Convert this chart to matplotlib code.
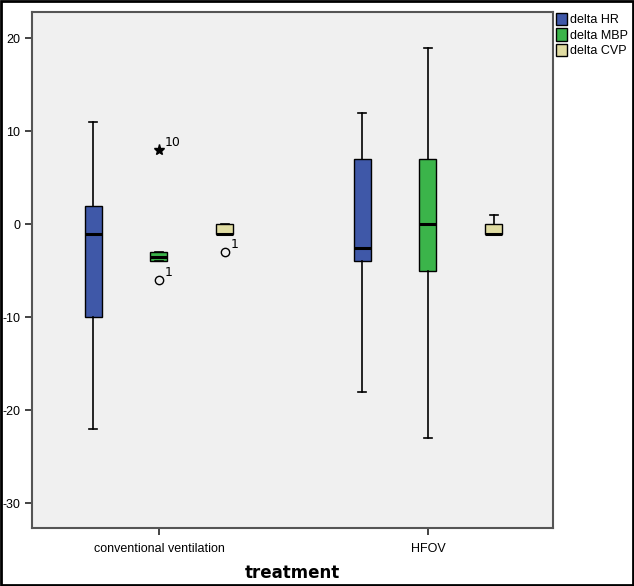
import matplotlib.pyplot as plt
from matplotlib.patches import Patch, Rectangle

# groups and series
groups = ['conventional ventilation', 'HFOV']
series = ['delta HR', 'delta MBP', 'delta CVP']
colors = ['#3f58a8', '#3bb44a', '#e0dca2']

# box statistics per series, one entry per group: (whislo, q1, med, q3, whishi)
hr_stats = [(-22, -10, -1, 2, 11), (-18, -4, -2.5, 7, 12)]
mbp_stats = [(-4, -4, -3.5, -3, -3), (-23, -5, 0, 7, 19)]
cvp_stats = [(-1, -1, -1, 0, 0), (-1, -1, -1, 0, 1)]

# outliers: (series index, group index, value, label, marker)
outliers = [(1, 0, 8, '10', '*'), (1, 0, -6, '1', 'o'), (2, 0, -3, '1', 'o')]

all_stats = [hr_stats, mbp_stats, cvp_stats]

fig = plt.figure(figsize=(6.34, 5.86), dpi=100)
ax = fig.add_axes([32 / 634, 1 - 528 / 586, 521 / 634, 516 / 586])
ax.set_facecolor('#f0f0f0')

offset = 0.245
width = 0.063
for s, stats in enumerate(all_stats):
    pos = [g + (s - 1) * offset for g in range(len(groups))]
    bxp = [dict(whislo=a, q1=b, med=c, q3=d, whishi=e, fliers=[]) for a, b, c, d, e in stats]
    ax.bxp(bxp, positions=pos, widths=width, patch_artist=True, showfliers=False,
           boxprops=dict(facecolor=colors[s], edgecolor='black', linewidth=1),
           medianprops=dict(color='black', linewidth=2.2),
           whiskerprops=dict(color='black', linewidth=1.2),
           capprops=dict(color='black', linewidth=1.2),
           capwidths=width * 0.45, manage_ticks=False)

for s, g, v, lab, m in outliers:
    x = g + (s - 1) * offset
    if m == '*':
        ax.plot(x, v, marker='*', color='black', markersize=8, linestyle='none')
    else:
        ax.plot(x, v, marker='o', mfc='none', mec='black', markersize=6, mew=1, linestyle='none')
    ax.annotate(lab, (x, v), xytext=(4, 3), textcoords='offset points', fontsize=9)

ax.set_xlim(-0.472, 1.465)
ax.set_ylim(-32.65, 22.82)
ax.set_xticks(range(len(groups)))
ax.set_xticklabels(groups, fontsize=9, family='Liberation Sans')
ax.set_yticks([-30, -20, -10, 0, 10, 20])
ax.set_yticklabels(['-30', '-20', '-10', '0', '10', '20'], fontsize=9, family='Liberation Sans')
ax.tick_params(direction='out', length=5, width=1.2, color='#222222')
ax.tick_params(axis='x', pad=6)
for sp in ax.spines.values():
    sp.set_color('#555555')
    sp.set_linewidth(1.5)

fig.text(292 / 634, 1 - 573 / 586, 'treatment', fontsize=12, fontweight='bold',
         ha='center', va='center')

handles = [Patch(facecolor=c, edgecolor='black', label=l) for c, l in zip(colors, series)]
fig.legend(handles=handles, loc='upper left', bbox_to_anchor=(553 / 634, 1 - 10 / 586),
           frameon=False, fontsize=8.5, handlelength=0.9, handleheight=1.2,
           handletextpad=0.3, labelspacing=0.15, borderaxespad=0, borderpad=0.2,
           prop={'family': 'Liberation Sans', 'size': 9})

fig.patches.append(Rectangle((0.002, 0.002), 0.996, 0.996, transform=fig.transFigure,
                             fill=False, edgecolor='black', linewidth=2))

fig.savefig('out.png', dpi=100)
